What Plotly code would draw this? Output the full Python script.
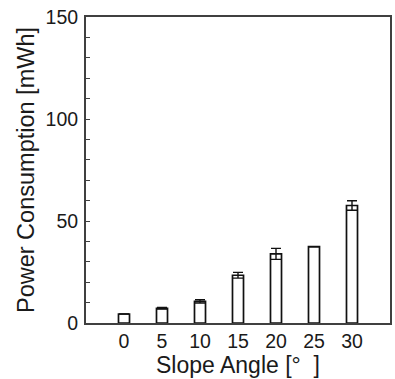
import plotly.graph_objects as go

# Slope angle (degrees) and measured power consumption
angles = ["0", "5", "10", "15", "20", "25", "30"]
power_mwh = [4.4, 7.2, 10.6, 23.4, 33.9, 37.4, 57.6]
power_err = [0.0, 0.4, 0.8, 1.4, 2.7, 0.0, 2.3]

y_ticks = [0, 50, 100, 150]

font_family = "Liberation Sans, Arial, sans-serif"
axis_color = "#404040"

fig = go.Figure(
    go.Bar(
        x=angles,
        y=power_mwh,
        width=0.29,
        marker=dict(color="white", line=dict(color="#111111", width=1.7)),
        error_y=dict(
            type="data",
            array=power_err,
            visible=True,
            color="#111111",
            thickness=1.4,
            width=5,
        ),
    )
)

fig.update_layout(
    width=395,
    height=379,
    margin=dict(l=86, r=3, t=17, b=56),
    paper_bgcolor="white",
    plot_bgcolor="white",
    showlegend=False,
    font=dict(family=font_family, color="#1a1a1a"),
)

fig.update_xaxes(
    type="category",
    range=[-1, 7],
    showline=True,
    linecolor=axis_color,
    linewidth=2,
    mirror=True,
    ticks="",
    showgrid=False,
    tickfont=dict(size=19.5),
    title=dict(text="Slope Angle [°\u00a0\u00a0]", font=dict(size=23), standoff=3),
)

fig.update_yaxes(
    range=[0, 150],
    tickvals=y_ticks,
    showline=True,
    linecolor=axis_color,
    linewidth=2,
    mirror=True,
    ticks="inside",
    ticklen=4,
    tickcolor=axis_color,
    minor=dict(dtick=10, ticks="inside", ticklen=4, tickcolor=axis_color),
    showgrid=False,
    zeroline=False,
    tickfont=dict(size=19.5),
    ticklabelstandoff=2,
    title=dict(text="Power Consumption [mWh]", font=dict(size=23.5), standoff=4),
)

fig.write_html("out.html")
